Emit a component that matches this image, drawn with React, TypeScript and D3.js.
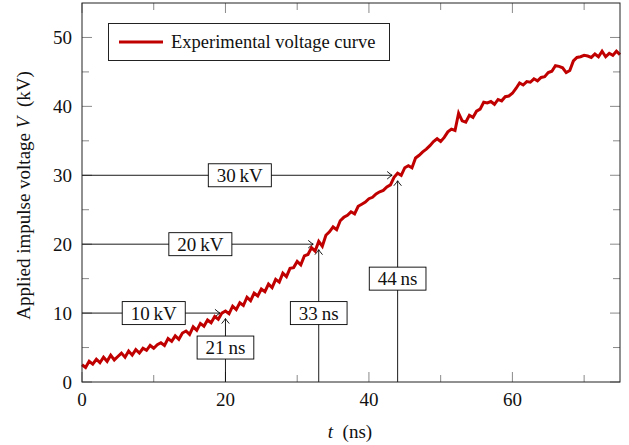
import React from 'react';
import * as d3 from 'd3';

// Experimental voltage curve (t in ns, V in kV)
const tValues = [
  0, 0.5, 1, 1.5, 2, 2.5, 3, 3.5, 4, 4.5, 5, 5.5, 6, 6.5, 7, 7.5, 8, 8.5, 9, 9.5,
  10, 10.5, 11, 11.5, 12, 12.5, 13, 13.5, 14, 14.5, 15, 15.5, 16, 16.5, 17, 17.5, 18, 18.5, 19, 19.5,
  20, 20.5, 21, 21.5, 22, 22.5, 23, 23.5, 24, 24.5, 25, 25.5, 26, 26.5, 27, 27.5, 28, 28.5, 29, 29.5,
  30, 30.5, 31, 31.5, 32, 32.5, 33, 33.5, 34, 34.5, 35, 35.5, 36, 36.5, 37, 37.5, 38, 38.5, 39, 39.5,
  40, 40.5, 41, 41.5, 42, 42.5, 43, 43.5, 44, 44.5, 45, 45.5, 46, 46.5, 47, 47.5, 48, 48.5, 49, 49.5,
  50, 50.5, 51, 51.5, 52, 52.5, 53, 53.5, 54, 54.5, 55, 55.5, 56, 56.5, 57, 57.5, 58, 58.5, 59, 59.5,
  60, 60.5, 61, 61.5, 62, 62.5, 63, 63.5, 64, 64.5, 65, 65.5, 66, 66.5, 67, 67.5, 68, 68.5, 69, 69.5,
  70, 70.5, 71, 71.5, 72, 72.5, 73, 73.5, 74, 74.5, 75,
];
const vValues = [
  2.5, 2.1, 3.0, 2.6, 3.3, 2.8, 3.6, 3.0, 3.9, 3.2, 3.7, 4.2, 3.6, 4.5, 3.9, 4.7, 4.2, 4.9, 4.6, 5.3,
  4.9, 5.4, 5.7, 5.3, 6.3, 5.9, 6.7, 6.2, 7.1, 7.4, 6.9, 8.0, 7.5, 8.5, 8.1, 9.0, 8.6, 9.5, 9.1, 10.0,
  10.3, 9.9, 11.0, 10.5, 11.5, 11.1, 12.3, 11.8, 12.9, 12.5, 13.5, 13.1, 14.2, 13.7, 14.9, 14.5, 15.8, 15.3, 16.5, 16.6,
  17.5, 17.0, 18.3, 18.5, 19.5, 19.0, 20.4, 19.7, 21.3, 21.8, 22.5, 22.1, 23.4, 23.9, 24.2, 24.7, 24.4, 25.5, 25.8, 26.1,
  26.6, 26.8, 27.3, 27.6, 27.8, 28.3, 28.6, 29.7, 30.3, 30.0, 31.1, 31.4, 31.1, 32.5, 32.9, 33.4, 33.8, 34.3, 34.9, 35.3,
  34.9, 35.5, 36.3, 36.7, 36.5, 39.0, 37.9, 37.7, 38.7, 38.4, 39.3, 39.6, 40.6, 40.5, 40.7, 40.3, 41.0, 40.8, 41.4, 41.5,
  41.9, 42.6, 43.4, 43.1, 43.6, 43.5, 44.0, 43.7, 44.2, 44.3, 44.9, 45.1, 45.9, 45.8, 45.6, 44.9, 45.2, 46.6, 47.1, 47.2,
  47.4, 47.3, 47.1, 47.6, 47.2, 48.0, 47.2, 47.7, 47.4, 48.0, 47.5,
];

const xMajorTicks = [0, 20, 40, 60];
const xMinorTicks = [10, 30, 50, 70];
const yMajorTicks = [0, 10, 20, 30, 40, 50];
const yMinorTicks = [5, 15, 25, 35, 45];

const markTimes = [20, 33, 44];
const markVoltages = [10, 20, 30];
const voltageLabels = ['10\u2009kV', '20\u2009kV', '30\u2009kV'];
const timeLabels = ['21\u2009ns', '33\u2009ns', '44\u2009ns'];

const legendLabel = 'Experimental voltage curve';

const W = 629;
const H = 445;
const L = 82;
const R = 620;
const T = 3;
const B = 382;
const RED = '#c00000';
const FONT = '"Liberation Serif"';
const FS = 19;
const TICK_COL = '#8a8a8a';
const MAJOR = 10;
const MINOR = 7;
const SHORT = 5.5;

const x = d3.scaleLinear().domain([0, 75]).range([L, R]);
const y = d3.scaleLinear().domain([0, 55]).range([B, T]);

let canvasCtx: CanvasRenderingContext2D | null = null;
function textWidth(s: string, size: number): number {
  if (!canvasCtx) canvasCtx = document.createElement('canvas').getContext('2d');
  if (!canvasCtx) return s.length * size * 0.5;
  canvasCtx.font = `${size}px "Liberation Serif"`;
  return canvasCtx.measureText(s).width;
}

function ArrowHead({ tx, ty, dir }: { tx: number; ty: number; dir: 'right' | 'up' }) {
  const a = 5;
  const b = 3.8;
  const d = dir === 'right'
    ? `M${tx - a},${ty - b} Q${tx - 1.5},${ty - 0.8} ${tx},${ty} Q${tx - 1.5},${ty + 0.8} ${tx - a},${ty + b}`
    : `M${tx - b},${ty + a} Q${tx - 0.8},${ty + 1.5} ${tx},${ty} Q${tx + 0.8},${ty + 1.5} ${tx + b},${ty + a}`;
  return <path d={d} fill="none" stroke="#000" strokeWidth={0.9} />;
}

function LabelBox({ cx, cy, label }: { cx: number; cy: number; label: string }) {
  const w = textWidth(label, FS) + 17;
  const h = 23;
  return (
    <g>
      <rect x={cx - w / 2} y={cy - h / 2} width={w} height={h} fill="#fff" stroke="#000" strokeWidth={0.9} />
      <text x={cx} y={cy + 6.5} textAnchor="middle" fontSize={FS} fill="#111" style={{ fontFamily: FONT }}>
        {label}
      </text>
    </g>
  );
}

export default function App() {
  React.useEffect(() => {
    document.body.style.margin = '0';
  }, []);

  const pts: [number, number][] = tValues.map((t, i) => [t, vValues[i]]);
  const linePath = d3.line<[number, number]>().x((d) => x(d[0])).y((d) => y(d[1]))(pts) as string;

  return (
    <div style={{ position: 'absolute', left: 0, top: 0 }}>
      <svg width={W} height={H} style={{ display: 'block', background: '#fff', fontFamily: FONT }}>
        {/* ticks */}
        {[...xMajorTicks.map((v) => [v, MAJOR]), ...xMinorTicks.map((v) => [v, MINOR])].map(([v, len]) => (
          <g key={`xt${v}`}>
            <line x1={x(v)} x2={x(v)} y1={B} y2={B - len} stroke={TICK_COL} strokeWidth={1} />
            <line x1={x(v)} x2={x(v)} y1={T} y2={T + len} stroke={TICK_COL} strokeWidth={1} />
          </g>
        ))}
        {[...yMajorTicks.map((v) => [v, MAJOR]), ...yMinorTicks.map((v) => [v, MINOR])].map(([v, len]) => (
          <g key={`yt${v}`}>
            <line x1={L} x2={L + len} y1={y(v)} y2={y(v)} stroke={TICK_COL} strokeWidth={1} />
            <line x1={R} x2={R - len} y1={y(v)} y2={y(v)} stroke={TICK_COL} strokeWidth={1} />
          </g>
        ))}

        {/* tick labels */}
        {xMajorTicks.map((v) => (
          <text key={`xl${v}`} x={x(v)} y={B + 24} textAnchor="middle" fontSize={FS} fill="#111" style={{ fontFamily: FONT }}>
            {v}
          </text>
        ))}
        {yMajorTicks.map((v) => (
          <text key={`yl${v}`} x={L - 10} y={y(v) + 6.5} textAnchor="end" fontSize={FS} fill="#111" style={{ fontFamily: FONT }}>
            {v}
          </text>
        ))}

        {/* axis labels */}
        <text x={350} y={438} textAnchor="middle" fontSize={FS} fill="#111" style={{ fontFamily: FONT }}>
          <tspan fontStyle="italic">t</tspan>
          <tspan>{'\u2002(ns)'}</tspan>
        </text>
        <text
          transform={`translate(30, ${(T + B) / 2 + 3}) rotate(-90)`}
          textAnchor="middle"
          fontSize={FS}
          fill="#111"
          style={{ fontFamily: FONT }}
        >
          <tspan>Applied impulse voltage </tspan>
          <tspan fontStyle="italic">V</tspan>
          <tspan>{'\u2002(kV)'}</tspan>
        </text>

        {/* annotation arrows */}
        {markTimes.map((t, i) => {
          const v = markVoltages[i];
          const hx2 = x(t) - SHORT;
          const vy2 = y(v) + SHORT;
          return (
            <g key={`ar${t}`}>
              <line x1={x(0)} x2={hx2} y1={y(v)} y2={y(v)} stroke="#000" strokeWidth={0.9} />
              <ArrowHead tx={hx2} ty={y(v)} dir="right" />
              <line x1={x(t)} x2={x(t)} y1={y(0)} y2={vy2} stroke="#000" strokeWidth={0.9} />
              <ArrowHead tx={x(t)} ty={vy2} dir="up" />
            </g>
          );
        })}

        {/* curve */}
        <path d={linePath} fill="none" stroke={RED} strokeWidth={3} strokeLinejoin="miter" strokeMiterlimit={4} />

        {/* label boxes */}
        {markTimes.map((t, i) => {
          const v = markVoltages[i];
          return (
            <g key={`lb${t}`}>
              <LabelBox cx={(x(0) + x(t)) / 2} cy={y(v)} label={voltageLabels[i]} />
              <LabelBox cx={x(t)} cy={(y(0) + y(v)) / 2} label={timeLabels[i]} />
            </g>
          );
        })}

        {/* frame */}
        <rect x={L} y={T} width={R - L} height={B - T} fill="none" stroke="#222" strokeWidth={1} />

        {/* legend */}
        <rect x={108.5} y={23.5} width={281} height={37} fill="#fff" stroke="#222" strokeWidth={1} />
        <line x1={119} x2={163} y1={42} y2={42} stroke={RED} strokeWidth={3} />
        <text x={171} y={48} fontSize={18.5} fill="#111" style={{ fontFamily: FONT }}>
          {legendLabel}
        </text>
      </svg>
    </div>
  );
}
